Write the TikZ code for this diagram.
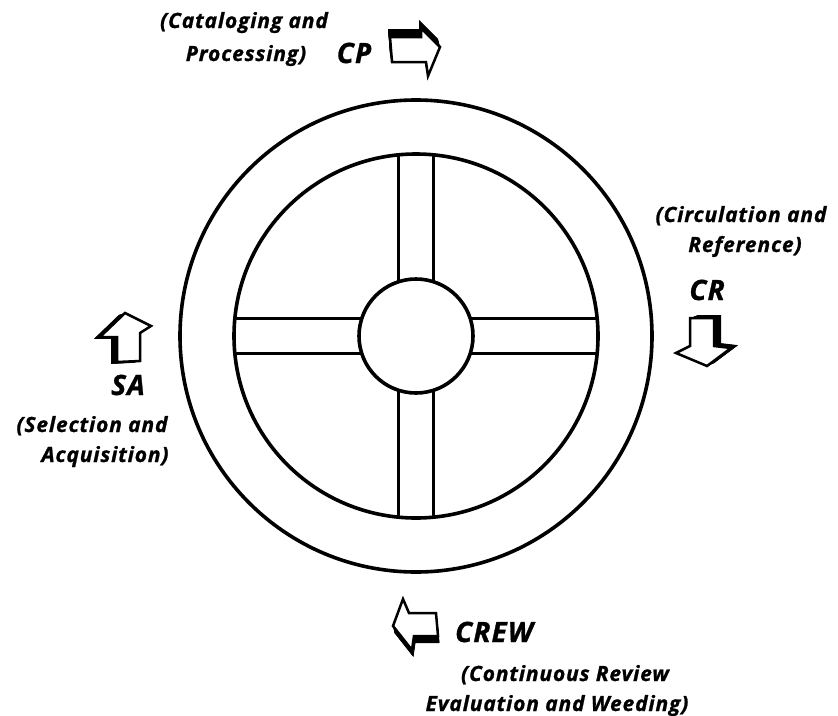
\documentclass[tikz,border=0pt]{standalone}
\usepackage{fontspec}
\setmainfont{Open Sans}
\newfontfamily\lblfont{Open Sans}[FakeBold=1,LetterSpace=4]
\begin{document}
\begin{tikzpicture}[x=1pt,y=-1pt,
  lbl/.style={font=\lblfont\fontsize{21}{23}\selectfont\bfseries\itshape, inner sep=0pt, anchor=base},
  big/.style={font=\lblfont\fontsize{28}{30}\selectfont\bfseries\itshape, inner sep=0pt, anchor=base},
  ring/.style={line width=3.6pt},
  spoke/.style={line width=3pt},
  face/.style={fill=white, draw=black, line width=2.5pt, line join=miter}]
\useasboundingbox (0,0) rectangle (838,715);
% wheel
\coordinate (c) at (416,336);
\draw[ring] (c) circle[radius=236];
\draw[ring] (c) circle[radius=182];
\draw[ring] (c) circle[radius=57];
\foreach \a in {0,90,180,270}{
  \begin{scope}[shift={(c)}, rotate=\a]
    \draw[spoke] (54.3,17.5) -- (181.2,17.5);
    \draw[spoke] (54.3,-17.5) -- (181.2,-17.5);
  \end{scope}
}
% arrows: extrusion then face
\def\cparrow{(390,37) -- (421,37) -- (421,28) -- (440,47) -- (428,76) -- (426,62) -- (392,62) -- cycle}
\foreach \s in {0,0.5,...,8} \fill[shift={(-0.25*\s,-\s)}] \cparrow;
\draw[face] \cparrow;
\def\crarrow{(690,318) -- (714,318) -- (714,346) -- (731,348) -- (707,366) -- (676,353) -- (690,346) -- cycle}
\foreach \s in {0,0.5,...,7} \fill[shift={(\s,-0.4*\s)}] \crarrow;
\draw[face] \crarrow;
\def\saarrow{(117,362) -- (140,361) -- (140,333) -- (151,326) -- (125,313) -- (100,337) -- (117,337) -- cycle}
\foreach \s in {0,0.5,...,6} \fill[shift={(-\s,0.3*\s)}] \saarrow;
\draw[face] \saarrow;
\def\crewarrow{(393,626) -- (403,599) -- (409,613) -- (436,613) -- (438,636) -- (414,636) -- (412,650) -- cycle}
\foreach \s in {0,0.5,...,7} \fill[shift={(0.2*\s,\s)}] \crewarrow;
\draw[face] \crewarrow;
% labels
\node[lbl] (cp1) at (244,28) {(Cataloging and};
\node[lbl] (cp2) at (246,61) {Processing)};
\node[big] (cp) at (354,63) {CP};
\node[lbl] (cr1) at (741,222) {(Circulation and};
\node[lbl] (cr2) at (745,252) {Reference)};
\node[big] (cr) at (707,300) {CR};
\node[big] (sa) at (128,395) {SA};
\node[lbl] (sa1) at (92,432) {(Selection and};
\node[lbl] (sa2) at (105,462) {Acquisition)};
\node[big] (crew) at (494,642) {CREW};
\node[lbl] (cw1) at (565,681) {(Continuous Review};
\node[lbl] (cw2) at (557,711) {Evaluation and Weeding)};
\end{tikzpicture}
\end{document}
